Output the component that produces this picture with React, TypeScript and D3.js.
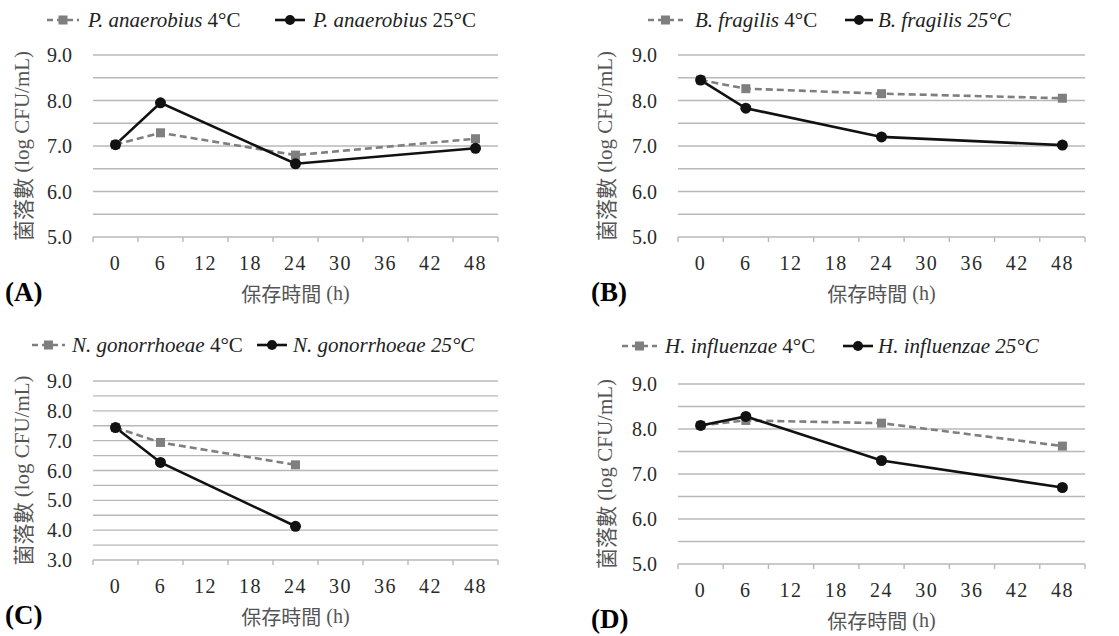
import * as d3 from "d3";

// time points shown on the category axis (h)
const hours = ["0", "6", "12", "18", "24", "30", "36", "42", "48"];
const sampledHours = ["0", "6", "24", "48"];
const gonoHours = ["0", "6", "24"];

// log CFU/mL
const anaerobiusCold = [7.03, 7.29, 6.8, 7.16];
const anaerobiusWarm = [7.03, 7.95, 6.61, 6.95];
const fragilisCold = [8.45, 8.26, 8.15, 8.05];
const fragilisWarm = [8.45, 7.83, 7.2, 7.02];
const gonoCold = [7.44, 6.94, 6.19];
const gonoWarm = [7.44, 6.27, 4.13];
const influenzaeCold = [8.08, 8.19, 8.13, 7.62];
const influenzaeWarm = [8.08, 8.28, 7.3, 6.7];

const SERIF = "'Liberation Serif', 'Times New Roman', Times, 'DejaVu Serif', serif";
const CJK = "'Noto Sans CJK TC', 'Noto Sans CJK SC', sans-serif";
const GRID = "#b8b8b8";
const COLD = "#7f7f7f";
const WARM = "#111111";

type Panel = {
  tag: string;
  species: string;
  warmItalic: boolean;
  x: string[];
  cold: number[];
  warm: number[];
  yMin: number;
  left: number;
  right: number;
  top: number;
  bottom: number;
  titleX: number;
  legendY: number;
  legend: number[]; // sym1 start, sym1 len, text1 x, sym2 start, sym2 len, text2 x
  labelX: number;
};

const panels: Panel[] = [
  {
    tag: "(A)", species: "P. anaerobius", warmItalic: false,
    x: sampledHours, cold: anaerobiusCold, warm: anaerobiusWarm, yMin: 5,
    left: 93, right: 498, top: 55, bottom: 237, titleX: 22, legendY: 20,
    legend: [47, 32, 88, 275, 30, 313], labelX: 5,
  },
  {
    tag: "(B)", species: "B. fragilis", warmItalic: true,
    x: sampledHours, cold: fragilisCold, warm: fragilisWarm, yMin: 5,
    left: 678, right: 1085, top: 55, bottom: 237, titleX: 605, legendY: 20,
    legend: [648, 35, 695, 845, 28, 878], labelX: 591,
  },
  {
    tag: "(C)", species: "N. gonorrhoeae", warmItalic: true,
    x: gonoHours, cold: gonoCold, warm: gonoWarm, yMin: 3,
    left: 93, right: 498, top: 381, bottom: 560, titleX: 22, legendY: 345,
    legend: [32, 33, 72, 257, 30, 293], labelX: 5,
  },
  {
    tag: "(D)", species: "H. influenzae", warmItalic: true,
    x: sampledHours, cold: influenzaeCold, warm: influenzaeWarm, yMin: 5,
    left: 678, right: 1085, top: 384, bottom: 564, titleX: 605, legendY: 346,
    legend: [622, 35, 665, 843, 30, 878], labelX: 591,
  },
];

function ChartPanel({ p }: { p: Panel }) {
  const x = d3.scaleBand().domain(hours).range([p.left, p.right]).padding(0);
  const y = d3.scaleLinear().domain([p.yMin, 9]).range([p.bottom, p.top]);
  const cx = (h: string) => (x(h) ?? 0) + x.bandwidth() / 2;

  const gridVals = d3.range(p.yMin, 9.01, 0.5);
  const majors = d3.range(p.yMin, 9.01, 1);
  const edges = hours.map((h) => x(h) ?? 0).concat([p.right]);

  const line = d3
    .line<number>()
    .x((_, i) => cx(p.x[i]))
    .y((d) => y(d));

  const [s1, l1, t1, s2, l2, t2] = p.legend;
  const ly = p.legendY;
  const midY = (p.top + p.bottom) / 2;
  const midX = (p.left + p.right) / 2;

  return (
    <g style={{ fontFamily: SERIF }}>
      {/* gridlines */}
      {gridVals.map((v) => (
        <line key={v} x1={p.left} x2={p.right} y1={y(v)} y2={y(v)}
          stroke={GRID} strokeWidth={1.4} />
      ))}
      {/* x axis ticks between categories */}
      {edges.map((e, i) => (
        <line key={i} x1={e} x2={e} y1={p.bottom} y2={p.bottom + 5}
          stroke={GRID} strokeWidth={1.4} />
      ))}
      {majors.map((v) => (
        <text key={v} x={p.left - 21} y={y(v)} textAnchor="end"
          dominantBaseline="central" fontSize={20} fill="#2a2a2a">
          {v.toFixed(1)}
        </text>
      ))}
      {hours.map((h) => (
        <text key={h} x={cx(h)} y={p.bottom + 26} textAnchor="middle"
          dominantBaseline="central" fontSize={20} fill="#2a2a2a"
          letterSpacing={1.5}>
          {h}
        </text>
      ))}
      <text x={midX} y={p.bottom + 56} textAnchor="middle"
        dominantBaseline="central" fontSize={20} fill="#555">
        <tspan style={{ fontFamily: CJK }} fontSize={20}>保存時間</tspan> (h)
      </text>
      <text transform={`translate(${p.titleX},${midY}) rotate(-90)`}
        textAnchor="middle" dominantBaseline="central" fontSize={21} fill="#555">
        <tspan style={{ fontFamily: CJK }} fontSize={21}>菌落數</tspan> (log CFU/mL)
      </text>
      <text x={p.labelX} y={p.bottom + 55} dominantBaseline="central"
        fontSize={27} fontWeight="bold" fill="#000">
        {p.tag}
      </text>

      {/* series */}
      <path d={line(p.cold) ?? ""} fill="none" stroke={COLD} strokeWidth={2.6}
        strokeDasharray="7 4" />
      <path d={line(p.warm) ?? ""} fill="none" stroke={WARM} strokeWidth={2.6} />
      {p.cold.map((v, i) => (
        <rect key={"c" + i} x={cx(p.x[i]) - 4.5} y={y(v) - 4.5} width={9}
          height={9} fill={COLD} />
      ))}
      {p.warm.map((v, i) => (
        <circle key={"w" + i} cx={cx(p.x[i])} cy={y(v)} r={5.5} fill={WARM} />
      ))}

      {/* legend */}
      <line x1={s1} x2={s1 + l1} y1={ly} y2={ly} stroke={COLD} strokeWidth={2.6}
        strokeDasharray="6 4" />
      <rect x={s1 + l1 / 2 - 4.5} y={ly - 4.5} width={9} height={9} fill={COLD} />
      <text x={t1} y={ly} dominantBaseline="central" fontSize={21} fill="#222">
        <tspan fontStyle="italic">{p.species}</tspan> 4°C
      </text>
      <line x1={s2} x2={s2 + l2} y1={ly} y2={ly} stroke={WARM} strokeWidth={2.6} />
      <circle cx={s2 + l2 / 2} cy={ly} r={5} fill={WARM} />
      <text x={t2} y={ly} dominantBaseline="central" fontSize={21} fill="#222">
        <tspan fontStyle="italic">{p.species}</tspan>
        {p.warmItalic ? <tspan fontStyle="italic"> 25°C</tspan> : " 25°C"}
      </text>
    </g>
  );
}

export default function App() {
  return (
    <svg width={1119} height={636}
      style={{ position: "absolute", left: 0, top: 0, background: "#fff" }}>
      {panels.map((p) => (
        <ChartPanel key={p.tag} p={p} />
      ))}
    </svg>
  );
}
